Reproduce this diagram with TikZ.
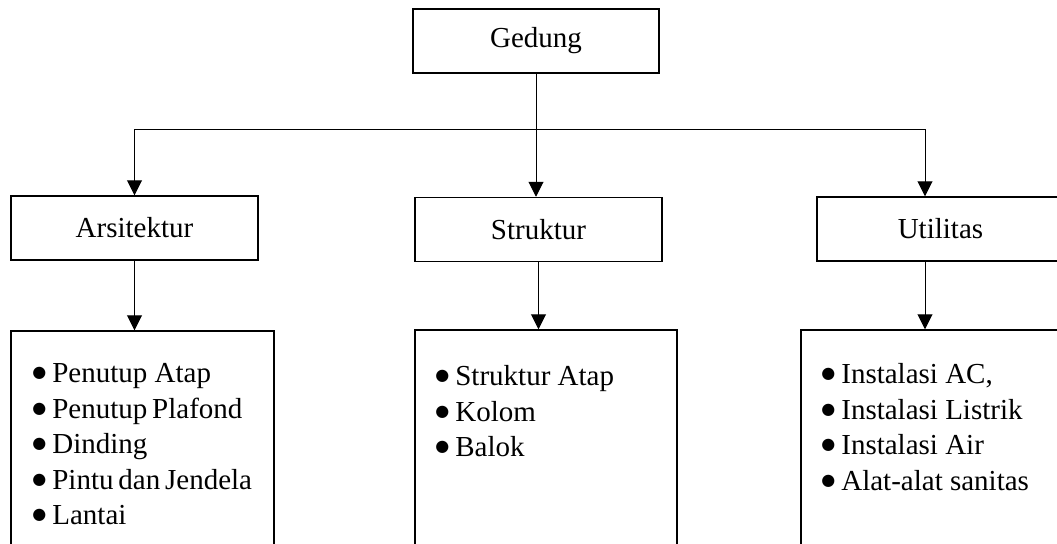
\documentclass[tikz,border=0pt]{standalone}
\usepackage{fontspec}
\setmainfont{Liberation Serif}
\newfontfamily\dotfont{DejaVu Sans}
\usepackage{tikz}
\usetikzlibrary{calc, shapes, arrows.meta}
\usetikzlibrary{positioning}
\tikzstyle{block} = [draw, rectangle, line width=0.75pt, inner sep=0pt,
    minimum height=32pt, minimum width=123.5pt]
\tikzstyle{listbox} = [draw, rectangle, line width=0.75pt,
    minimum height=135pt, minimum width=131.5pt]
\tikzstyle{listtext} = [align=left, inner sep=0pt, anchor=north west]
\tikzstyle{link} = [line width=0.5pt, -{Triangle[width=7.5pt, length=7.5pt]}]
\newcommand{\bul}{\raisebox{2.3pt}{\dotfont\fontsize{8}{8}\selectfont ●}\hspace{3pt}}

\begin{document}
\begin{tikzpicture}[x=0.5pt, y=-0.5pt, font=\fontsize{14.5}{17.75}\selectfont]
    \useasboundingbox (0, 0) rectangle (1057, 543);
    \clip (0, 0) rectangle (1057, 543);

    \node[block, minimum width=123pt, name=gedung] at (536, 41) {Gedung};
    \coordinate (bus) at (536, 129);

    \node[block, name=arsi] at (134.5, 228) {Arsitektur};
    \node[block, name=struk] at (538.5, 229.5) {Struktur};
    \node[block, name=util] at (940.5, 229) {Utilitas};

    \node[listbox, name=arsilist] at (142.5, 466) {};
    \node[listbox, minimum width=131pt, name=struklist] at (546, 465) {};
    \node[listbox, name=utillist] at (932.5, 465) {};

    \coordinate (utiltop) at ($(util.north)+(-15.5, 0)$);
    \coordinate (utilbot) at ($(util.south)+(-15.5, 0)$);

    \draw[link] (gedung.south) -- (bus) -| (arsi.north);
    \draw[link] (bus) -- (bus |- struk.north);
    \draw[link] (bus) -| (utiltop);
    \draw[link] (arsi.south) -- (arsi.south |- arsilist.north);
    \draw[link] (struk.south) -- (struk.south |- struklist.north);
    \draw[link] (utilbot) -- (utilbot |- utillist.north);

    \node[listtext, name=arsitext] at (32, 363) {\bul Penutup Atap\\ \bul Penutup\,Plafond\\ \bul Dinding\\
        \bul Pintu\,dan\,Jendela\\ \bul Lantai};
    \node[listtext, name=struktext] at (435, 365) {\bul Struktur Atap\\ \bul Kolom\\ \bul Balok};
    \node[listtext, name=utiltext] at (821, 363) {\bul Instalasi AC,\\ \bul Instalasi Listrik\\ \bul Instalasi Air\\
        \bul Alat-alat sanitas};
\end{tikzpicture}
\end{document}
